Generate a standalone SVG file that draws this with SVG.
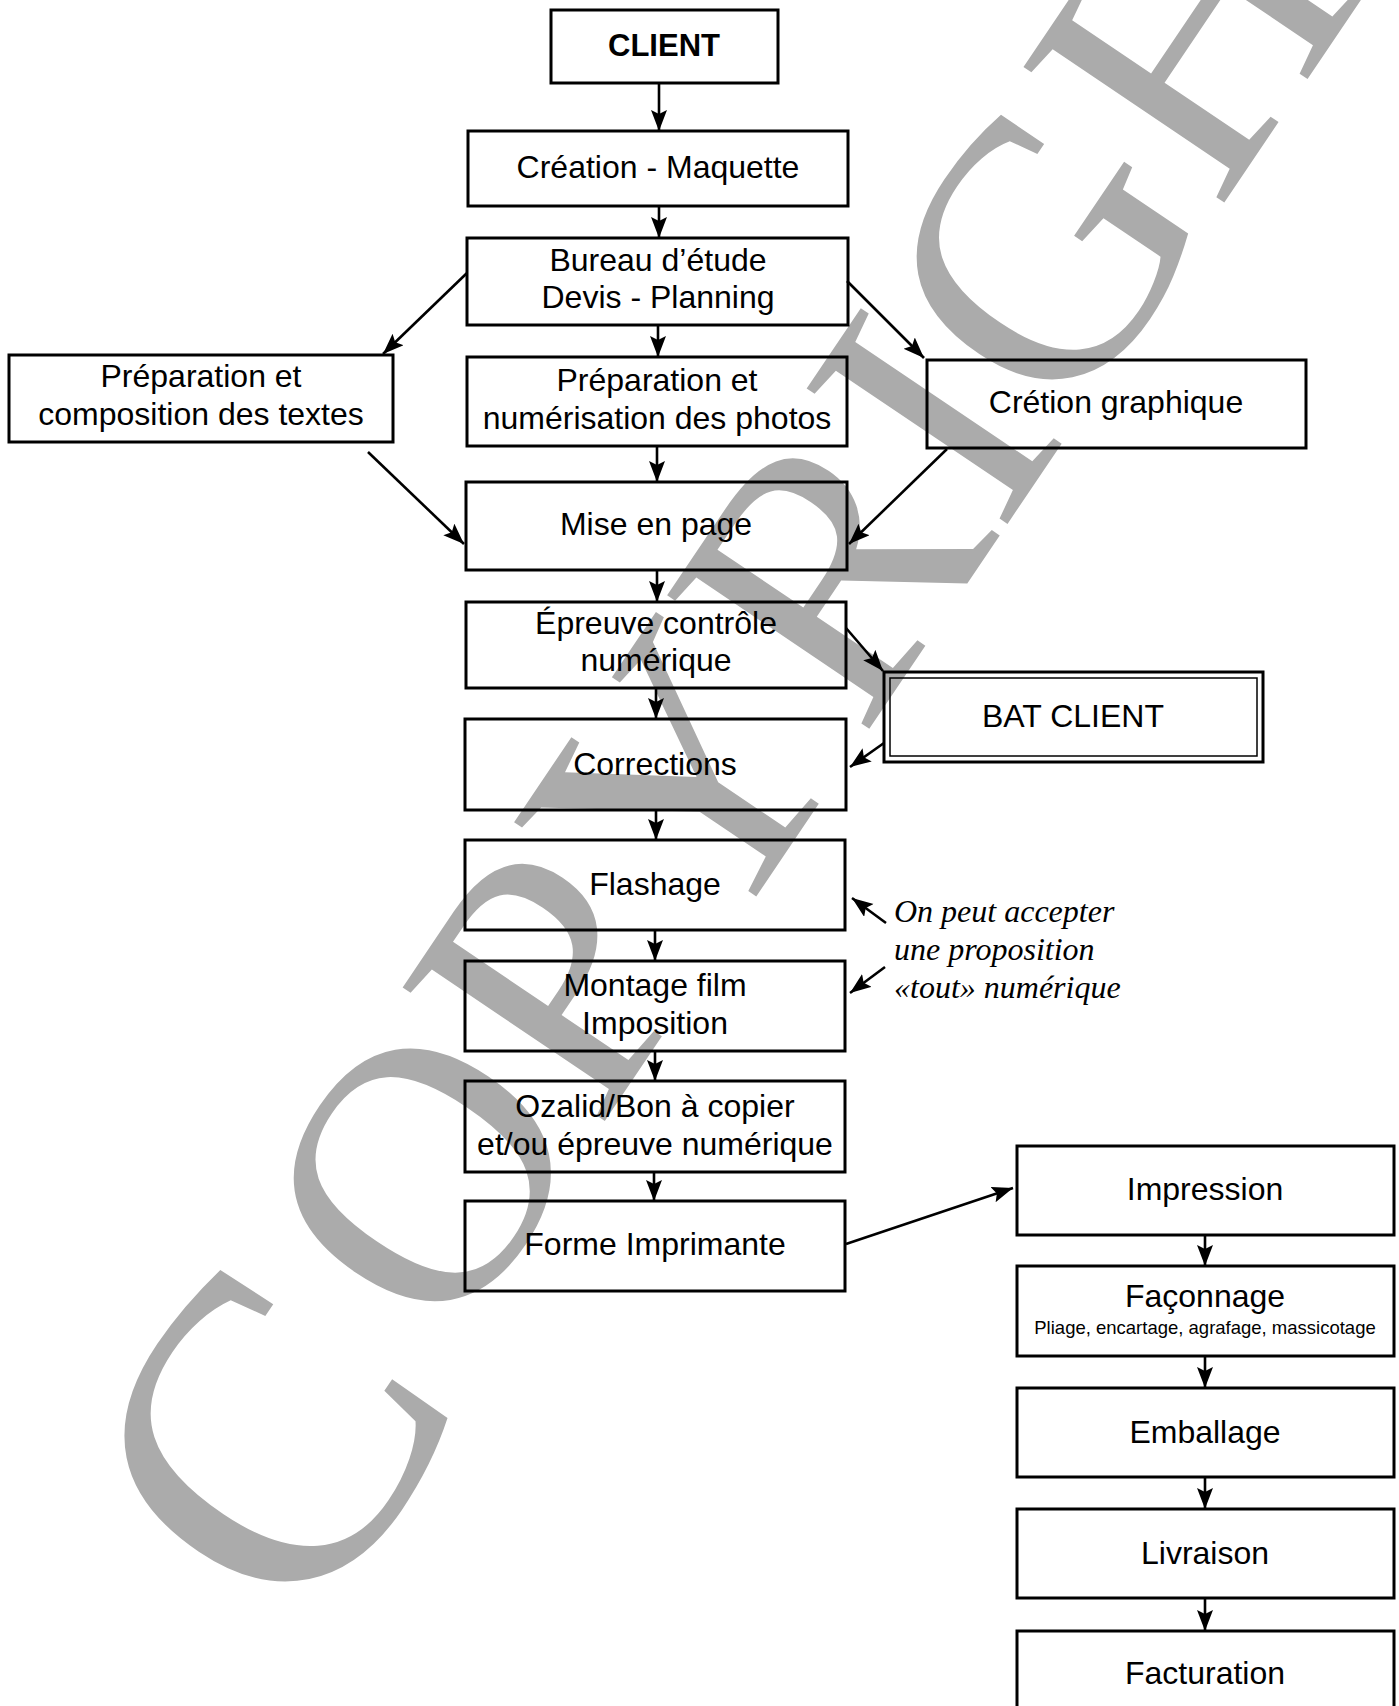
<svg xmlns="http://www.w3.org/2000/svg" width="1399" height="1706" viewBox="0 0 1399 1706">
<style>
.box{fill:none;stroke:#000;stroke-width:3}
.t{font-family:"Liberation Sans",Arial,Helvetica,sans-serif;font-size:32px;text-anchor:middle;fill:#000}
.b{font-weight:bold}
.s{font-size:18.5px}
.it{font-family:"Liberation Serif","Times New Roman",serif;font-style:italic;font-size:32px;fill:#000}
.c{fill:none;stroke:#000;stroke-width:2.6;marker-end:url(#ah)}
.wm{font-family:"Liberation Serif","Times New Roman",serif;font-size:370px;fill:#ababab}
</style>
<defs>
<marker id="ah" markerUnits="userSpaceOnUse" markerWidth="22" markerHeight="18" refX="21" refY="8" orient="auto">
<path d="M0,0 L21,8 L0,16 L4,8 z" fill="#000"/>
</marker>
</defs>
<rect width="1399" height="1706" fill="#fff"/>
<g id="watermark">
<text class="wm" transform="translate(310,1558) rotate(-56)" x="-75" y="45" style="font-size:440px">C</text>
<text class="wm" transform="translate(310,1558) rotate(-56)" x="247" y="0">OPYRIGH</text>
</g>
<g id="connectors">
<line class="c" x1="659" y1="83" x2="659" y2="131"/>
<line class="c" x1="659" y1="206" x2="659" y2="238"/>
<line class="c" x1="658" y1="325" x2="658" y2="357"/>
<line class="c" x1="657" y1="446" x2="657" y2="482"/>
<line class="c" x1="657" y1="570" x2="657" y2="602"/>
<line class="c" x1="656" y1="688" x2="656" y2="719"/>
<line class="c" x1="656" y1="810" x2="656" y2="840"/>
<line class="c" x1="655" y1="930" x2="655" y2="961"/>
<line class="c" x1="655" y1="1051" x2="655" y2="1081"/>
<line class="c" x1="654" y1="1172" x2="654" y2="1201"/>
<line class="c" x1="467" y1="273" x2="383" y2="354"/>
<line class="c" x1="847" y1="281" x2="924" y2="358"/>
<line class="c" x1="368" y1="452" x2="464" y2="544"/>
<line class="c" x1="947" y1="449" x2="849" y2="544"/>
<line class="c" x1="846" y1="628" x2="883" y2="671"/>
<line class="c" x1="884" y1="743" x2="850" y2="767"/>
<line class="c" x1="886" y1="923" x2="852" y2="898"/>
<line class="c" x1="885" y1="967" x2="850" y2="993"/>
<line class="c" x1="846" y1="1244" x2="1013" y2="1188"/>
<line class="c" x1="1205" y1="1235" x2="1205" y2="1266"/>
<line class="c" x1="1205" y1="1356" x2="1205" y2="1388"/>
<line class="c" x1="1205" y1="1477" x2="1205" y2="1509"/>
<line class="c" x1="1205" y1="1598" x2="1205" y2="1631"/>
</g>
<g id="client"><rect class="box" x="551" y="10" width="227" height="73"/><text class="t b" x="664" y="56" style="font-size:31px">CLIENT</text></g>
<g id="creation"><rect class="box" x="468" y="131" width="380" height="75"/><text class="t" x="658" y="178">Création - Maquette</text></g>
<g id="bureau"><rect class="box" x="467" y="238" width="381" height="87"/><text class="t" x="658" y="271">Bureau d’étude</text><text class="t" x="658" y="308">Devis - Planning</text></g>
<g id="prep-textes"><rect class="box" x="9" y="355" width="384" height="87"/><text class="t" x="201" y="387">Préparation et</text><text class="t" x="201" y="425">composition des textes</text></g>
<g id="prep-photos"><rect class="box" x="467" y="357" width="380" height="89"/><text class="t" x="657" y="391">Préparation et</text><text class="t" x="657" y="429">numérisation des photos</text></g>
<g id="creation-graphique"><rect class="box" x="927" y="360" width="379" height="88"/><text class="t" x="1116" y="413">Crétion graphique</text></g>
<g id="mise-en-page"><rect class="box" x="466" y="482" width="381" height="88"/><text class="t" x="656" y="535">Mise en page</text></g>
<g id="epreuve"><rect class="box" x="466" y="602" width="380" height="86"/><text class="t" x="656" y="634">Épreuve contrôle</text><text class="t" x="656" y="671">numérique</text></g>
<g id="bat-client"><rect class="box" x="884" y="672" width="379" height="90"/><rect x="890" y="678" width="367" height="78" fill="none" stroke="#000" stroke-width="1.5"/><text class="t" x="1073" y="727">BAT CLIENT</text></g>
<g id="corrections"><rect class="box" x="465" y="719" width="381" height="91"/><text class="t" x="655" y="775">Corrections</text></g>
<g id="flashage"><rect class="box" x="465" y="840" width="380" height="90"/><text class="t" x="655" y="895">Flashage</text></g>
<g id="montage"><rect class="box" x="465" y="961" width="380" height="90"/><text class="t" x="655" y="996">Montage film</text><text class="t" x="655" y="1034">Imposition</text></g>
<g id="ozalid"><rect class="box" x="465" y="1081" width="380" height="91"/><text class="t" x="655" y="1117">Ozalid/Bon à copier</text><text class="t" x="655" y="1155">et/ou épreuve numérique</text></g>
<g id="forme"><rect class="box" x="465" y="1201" width="380" height="90"/><text class="t" x="655" y="1255">Forme Imprimante</text></g>
<g id="note"><text class="it" x="894" y="922">On peut accepter</text><text class="it" x="894" y="960">une proposition</text><text class="it" x="894" y="998">«tout» numérique</text></g>
<g id="impression"><rect class="box" x="1017" y="1146" width="377" height="89"/><text class="t" x="1205" y="1200">Impression</text></g>
<g id="faconnage"><rect class="box" x="1017" y="1266" width="377" height="90"/><text class="t" x="1205" y="1307">Façonnage</text><text class="t s" x="1205" y="1334">Pliage, encartage, agrafage, massicotage</text></g>
<g id="emballage"><rect class="box" x="1017" y="1388" width="377" height="89"/><text class="t" x="1205" y="1443">Emballage</text></g>
<g id="livraison"><rect class="box" x="1017" y="1509" width="377" height="89"/><text class="t" x="1205" y="1564">Livraison</text></g>
<g id="facturation"><rect class="box" x="1017" y="1631" width="377" height="90"/><text class="t" x="1205" y="1684">Facturation</text></g>
</svg>
